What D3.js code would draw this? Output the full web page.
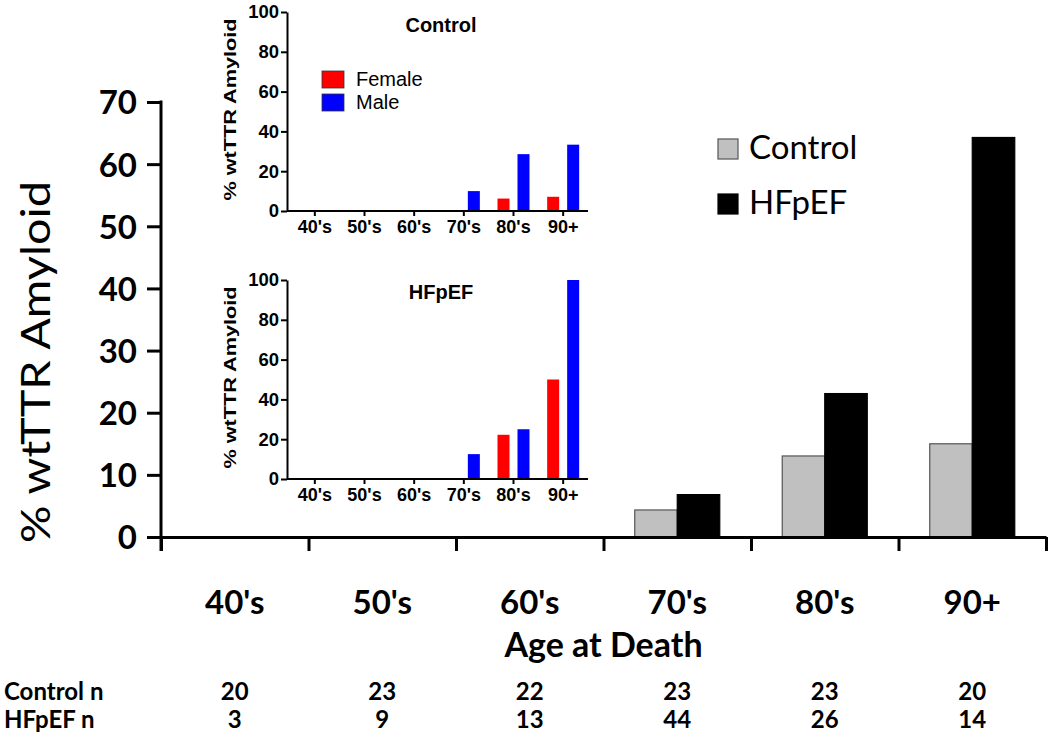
<!DOCTYPE html>
<html><head><meta charset="utf-8">
<script src="https://cdn.jsdelivr.net/npm/d3@7"></script>
<style>body{margin:0;background:#fff}svg{display:block}</style>
</head><body>
<svg id="chart" width="1050" height="744"></svg>
<script>
const categories = ["40's","50's","60's","70's","80's","90+"];
const groups = ["Control","HFpEF"];
const controlValues = [0,0,0,4.35,13.04,15.0];
const hfpefValues = [0,0,0,6.82,23.08,64.29];
const yTicks = [0,10,20,30,40,50,60,70];
const controlN = [20,23,22,23,23,20];
const hfpefN = [3,9,13,44,26,14];
const insetSexes = ["Female","Male"];
const insetTicks = [0,20,40,60,80,100];
const insetControlFemale = [0,0,0,0,6.25,7.14];
const insetControlMale = [0,0,0,10,28.57,33.33];
const insetHfpefFemale = [0,0,0,0,22.22,50];
const insetHfpefMale = [0,0,0,12.5,25,100];

const svg = d3.select("#chart");
const mainFont = "Lato, 'Open Sans', sans-serif";
const insetFont = "'Liberation Sans', Arial, sans-serif";

// ---------- main chart ----------
const x0 = 161, x1 = 1046, yTop = 102, yBase = 537;
const x = d3.scaleBand().domain(categories).range([x0, x1]).padding(0);
const xg = d3.scaleBand().domain(groups).range([0, x.bandwidth()]).paddingInner(0).paddingOuter(0.735);
const y = d3.scaleLinear().domain([0,70]).range([yBase, yTop]);

const mainData = categories.map((c,i)=>({cat:c, vals:[
  {g:"Control", v:controlValues[i]}, {g:"HFpEF", v:hfpefValues[i]}]}));

const gBars = svg.append("g");
gBars.selectAll("g").data(mainData).join("g")
  .attr("transform", d=>`translate(${x(d.cat)},0)`)
  .selectAll("rect").data(d=>d.vals.filter(e=>e.v>0)).join("rect")
  .attr("x", d=>xg(d.g)).attr("width", xg.bandwidth())
  .attr("y", d=>y(d.v)).attr("height", d=>yBase - y(d.v))
  .attr("fill", d=>d.g==="Control" ? "#c0c0c0" : "#000")
  .attr("stroke", d=>d.g==="Control" ? "#555" : "#000")
  .attr("stroke-width", 1.2);

// y axis
const yAxis = svg.append("g").attr("transform", `translate(${x0},0)`)
  .call(d3.axisLeft(y).tickValues(yTicks).tickSize(14).tickSizeOuter(14).tickPadding(10).tickFormat(d3.format("d")));
yAxis.selectAll("path,line").attr("stroke","#000").attr("stroke-width",3);
yAxis.selectAll("text").attr("font-family", mainFont).attr("font-weight","bold").attr("font-size",33).attr("fill","#000").attr("dy","0.36em");
yAxis.select(".domain").remove();
yAxis.append("line").attr("x1",0).attr("x2",0).attr("y1",yTop-1.5).attr("y2",yBase+14).attr("stroke","#000").attr("stroke-width",3);

// x axis with boundary ticks
const xb = d3.scaleLinear().domain([0,categories.length]).range([x0,x1]);
const xAxis = svg.append("g").attr("transform", `translate(0,${yBase})`)
  .call(d3.axisBottom(xb).tickValues(d3.range(categories.length+1)).tickSize(14).tickSizeOuter(0).tickFormat(""));
xAxis.selectAll("path,line").attr("stroke","#000").attr("stroke-width",3);

// category labels
svg.append("g").selectAll("text").data(categories).join("text")
  .attr("x", d=>x(d)+x.bandwidth()/2).attr("y", 614)
  .attr("text-anchor","middle").attr("font-family",mainFont).attr("font-weight","bold").attr("font-size",33)
  .text(d=>d);
svg.append("text").attr("x",(x0+x1)/2).attr("y",657).attr("text-anchor","middle")
  .attr("font-family",mainFont).attr("font-weight","bold").attr("font-size",34).text("Age at Death");

// y title
svg.append("text").attr("transform","translate(50,362) rotate(-90)").attr("text-anchor","middle")
  .attr("font-family",mainFont).attr("font-size",41)
  .attr("textLength",362).attr("lengthAdjust","spacingAndGlyphs").text("% wtTTR Amyloid");

// legend
const legend = svg.append("g");
groups.forEach((g,i)=>{
  legend.append("rect").attr("x",718).attr("y",139+i*55).attr("width",20).attr("height",20)
    .attr("fill", g==="Control" ? "#c0c0c0" : "#000").attr("stroke", g==="Control" ? "#555":"#000").attr("stroke-width",1.2);
  legend.append("text").attr("x",749).attr("y",159+i*55).attr("font-family",mainFont).attr("font-size",33).text(g);
});

// n table
const table = svg.append("g").attr("font-family",mainFont).attr("font-weight","bold").attr("font-size",24);
[["Control n",controlN,700],["HFpEF n",hfpefN,728]].forEach(([lab,arr,yy])=>{
  table.append("text").attr("x",4).attr("y",yy).text(lab);
  table.selectAll(null).data(arr).join("text")
    .attr("x",(d,i)=>x(categories[i])+x.bandwidth()/2).attr("y",yy).attr("text-anchor","middle").text(d=>d);
});

// ---------- insets ----------
function inset(yTopI, yBaseI, title, titleY, female, male, showLegend){
  const g = svg.append("g");
  const xi = d3.scaleBand().domain(categories).range([290,588]);
  const yi = d3.scaleLinear().domain([0,100]).range([yBaseI, yTopI]);
  const data = categories.map((c,i)=>({cat:c, vals:[{s:"Female",v:female[i]},{s:"Male",v:male[i]}]}));
  const off = {Female:-16, Male:4};
  g.selectAll("g.b").data(data).join("g").attr("class","b")
    .attr("transform", d=>`translate(${xi(d.cat)+xi.bandwidth()/2},0)`)
    .selectAll("rect").data(d=>d.vals.filter(e=>e.v>0)).join("rect")
    .attr("x", d=>off[d.s]).attr("width",12)
    .attr("y", d=>yi(d.v)).attr("height", d=>yBaseI-yi(d.v))
    .attr("fill", d=>d.s==="Female" ? "#ff0000" : "#0000ff");
  const ya = g.append("g").attr("transform","translate(287,0)")
    .call(d3.axisLeft(yi).tickValues(insetTicks).tickSize(6).tickSizeOuter(0).tickPadding(2));
  ya.selectAll("path,line").attr("stroke","#000").attr("stroke-width",2);
  ya.selectAll("text").attr("font-family",insetFont).attr("font-weight","bold").attr("font-size",18.5).attr("fill","#000");
  const xa = g.append("g").attr("transform",`translate(0,${yBaseI})`)
    .call(d3.axisBottom(xi).tickSize(5).tickSizeOuter(0).tickPadding(4));
  xa.select(".domain").attr("d",`M287,0H588`);
  xa.selectAll("path,line").attr("stroke","#000").attr("stroke-width",2);
  xa.selectAll("text").attr("font-family",insetFont).attr("font-weight","bold").attr("font-size",18).attr("fill","#000");
  g.append("text").attr("x",441).attr("y",titleY).attr("text-anchor","middle")
    .attr("font-family",insetFont).attr("font-weight","bold").attr("font-size",20).text(title);
  g.append("text").attr("transform",`translate(236,${(yTopI+yBaseI)/2-2}) rotate(-90)`).attr("text-anchor","middle")
    .attr("font-family",insetFont).attr("font-weight","bold").attr("font-size",17)
    .attr("textLength",182).attr("lengthAdjust","spacingAndGlyphs").text("% wtTTR Amyloid");
  if(showLegend){
    insetSexes.forEach((s,i)=>{
      g.append("rect").attr("x",322).attr("y",71+i*23).attr("width",22).attr("height",17)
        .attr("fill", s==="Female" ? "#ff0000" : "#0000ff").attr("stroke","#333").attr("stroke-width",0.8);
      g.append("text").attr("x",356).attr("y",86+i*23).attr("font-family",insetFont).attr("font-size",20).text(s);
    });
  }
}
inset(12, 211, "Control", 32, insetControlFemale, insetControlMale, true);
inset(280, 479, "HFpEF", 299, insetHfpefFemale, insetHfpefMale, false);
</script>
</body></html>
